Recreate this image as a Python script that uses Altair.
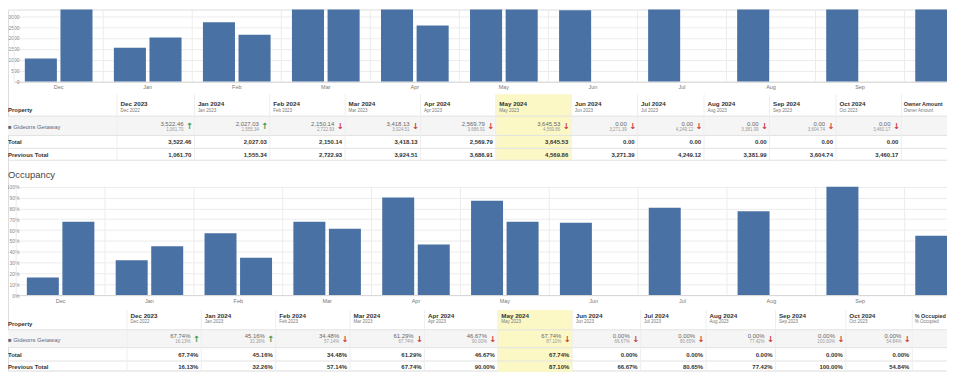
import altair as alt
import pandas as pd

# ---------------- data ----------------
months = ["Dec", "Jan", "Feb", "Mar", "Apr", "May", "Jun", "Jul", "Aug", "Sep", "Oct"]
periods_cur = ["Dec 2023", "Jan 2024", "Feb 2024", "Mar 2024", "Apr 2024", "May 2024",
               "Jun 2024", "Jul 2024", "Aug 2024", "Sep 2024", "Oct 2024"]
periods_prev = ["Dec 2022", "Jan 2023", "Feb 2023", "Mar 2023", "Apr 2023", "May 2023",
                "Jun 2023", "Jul 2023", "Aug 2023", "Sep 2023", "Oct 2023"]
owner_cur = [3522.46, 2027.03, 2150.14, 3418.13, 2569.79, 3645.53, 0.00, 0.00, 0.00, 0.00, 0.00]
owner_prev = [1061.70, 1555.34, 2722.93, 3924.51, 3686.91, 4569.86, 3271.39, 4249.12, 3381.99, 3604.74, 3460.17]
occ_cur = [67.74, 45.16, 34.48, 61.29, 46.67, 67.74, 0.00, 0.00, 0.00, 0.00, 0.00]
occ_prev = [16.13, 32.26, 57.14, 67.74, 90.00, 87.10, 66.67, 80.65, 77.42, 100.00, 54.84]
owner_ticks = [0, 500, 1000, 1500, 2000, 2500, 3000, 3500]
occ_ticks = [0, 10, 20, 30, 40, 50, 60, 70, 80, 90, 100]
property_name = "Gideons Getaway"
row_labels = ["Property", "Total", "Previous Total"]
summary_headers = ["Owner Amount", "% Occupied"]
occupancy_title = "Occupancy"
highlight = "May 2024"
hidden_axis_label = "Oct"   # falls past the right edge of the view

# ---------------- layout / style ----------------
W, H = 947, 364
BLUE = "#4a71a3"
FONT = "Liberation Sans"
N = len(months)


def bar_panel(prev, cur, ymax, yrng, xrng, ticks, label_expr):
    df = pd.DataFrame({
        "month": months * 2,
        "series": ["prev"] * N + ["cur"] * N,
        "value": prev + cur,
    })
    xs = alt.Scale(domain=months, range=xrng, paddingInner=0.24, paddingOuter=0.12)
    ys = alt.Scale(domain=[0, ymax], range=yrng, nice=False, zero=False)
    step = (xrng[1] - xrng[0]) / N
    vgrid = alt.Chart(pd.DataFrame({"month": months})).mark_rule(
        color="#ececec", strokeWidth=1, xOffset=-0.12 * step, clip=True
    ).encode(
        x=alt.X("month:N", scale=xs, bandPosition=0, axis=None, sort=months),
        y=alt.YDatum(0, scale=ys, axis=None),
        y2=alt.Y2Datum(ymax),
    )
    bars = alt.Chart(df).mark_bar(color=BLUE, clip=True).encode(
        x=alt.X("month:N", scale=xs, sort=months, title=None,
                axis=alt.Axis(orient="bottom", offset=yrng[0] - H, labelAngle=0, ticks=False,
                              grid=False, domainColor="#d4d4d4", labelColor="#777",
                              labelFontSize=5.5, labelPadding=3, labelFont=FONT,
                              labelExpr=f"datum.value == '{hidden_axis_label}' ? '' : datum.label")),
        xOffset=alt.XOffset("series:N", sort=["prev", "cur"],
                            scale=alt.Scale(domain=["prev", "cur"], paddingInner=0.1, paddingOuter=0)),
        y=alt.Y("value:Q", scale=ys, title=None,
                axis=alt.Axis(orient="left", offset=-12, values=ticks, grid=True, gridColor="#ececec",
                              domain=False, ticks=False, labelColor="#888", labelFontSize=5,
                              labelPadding=1, labelFont=FONT, labelExpr=label_expr)),
    )
    return [vgrid, bars]


def table_panel(cur, prev, fmt, div, summary, edges, rows):
    base = pd.DataFrame({
        "col": list(range(N)),
        "head": periods_cur,
        "sub": periods_prev,
        "cur": cur,
        "prev": prev,
    })
    base["right"] = base["col"] + 1
    base["dir"] = ["up" if c > p else "down" for c, p in zip(cur, prev)]
    base["arrow"] = ["\u2191" if d == "up" else "\u2193" for d in base["dir"]]

    xs = alt.Scale(domain=list(range(-1, N + 2)), range=edges, nice=False, zero=False)
    order = sorted(rows, key=rows.get)
    ys = alt.Scale(domain=list(range(len(order))), range=[rows[k] for k in order], nice=False, zero=False)

    def Y(name):
        return alt.YDatum(order.index(name), scale=ys, axis=None)

    def Y2(name):
        return alt.Y2Datum(order.index(name))

    def XC(field):
        return alt.X(field, scale=xs, axis=None)

    one = pd.DataFrame({"a": [0]})
    calc_cur = f"format(datum.cur / {div}, '{fmt}')"
    calc_prev = f"format(datum.prev / {div}, '{fmt}')"

    layers = []
    # data row background
    layers.append(alt.Chart(one).mark_rect(color="#f5f5f5").encode(
        x=alt.XDatum(-1, scale=xs, axis=None), x2=alt.X2Datum(N + 1),
        y=Y("headline"), y2=Y2("dataline")))
    # highlighted column
    layers.append(alt.Chart(base[base["head"] == highlight]).mark_rect(color="#fbf8c6").encode(
        x=XC("col:Q"), x2="right:Q", y=Y("top"), y2=Y2("bottom")))
    # horizontal borders
    hl = pd.DataFrame({"r": [order.index(k) for k in ["headline", "dataline", "totalline", "bottom"]]})
    layers.append(alt.Chart(hl).mark_rule(color="#e2e2e2", strokeWidth=1).encode(
        x=alt.XDatum(-1, scale=xs, axis=None), x2=alt.X2Datum(N + 1),
        y=alt.Y("r:Q", scale=ys, axis=None)))
    # vertical separators
    vl = pd.DataFrame({"e": list(range(0, N + 2))})
    layers.append(alt.Chart(vl).mark_rule(color="#eeeeee", strokeWidth=1).encode(
        x=XC("e:Q"), y=Y("top"), y2=Y2("bottom")))
    # headers
    layers.append(alt.Chart(base).mark_text(align="left", baseline="middle", dx=3.5, fontSize=6.3,
                                            fontWeight="bold", color="#333", font=FONT).encode(
        x=XC("col:Q"), y=Y("head"), text="head:N"))
    layers.append(alt.Chart(base).mark_text(align="left", baseline="middle", dx=3.5, fontSize=4.5,
                                            color="#777", font=FONT).encode(
        x=XC("col:Q"), y=Y("sub"), text="sub:N"))
    summ = pd.DataFrame({"col": [N], "head": [summary]})
    layers.append(alt.Chart(summ).mark_text(align="left", baseline="middle", dx=2.5, fontSize=5.5,
                                            fontWeight="bold", color="#333", font=FONT).encode(
        x=XC("col:Q"), y=Y("head"), text="head:N"))
    layers.append(alt.Chart(summ).mark_text(align="left", baseline="middle", dx=2.5, fontSize=4.5,
                                            color="#777", font=FONT).encode(
        x=XC("col:Q"), y=Y("sub"), text="head:N"))
    # data row values
    layers.append(alt.Chart(base).transform_calculate(v=calc_cur).mark_text(
        align="right", baseline="middle", dx=-11, fontSize=6, color="#666", font=FONT).encode(
        x=XC("right:Q"), y=Y("val"), text="v:N"))
    layers.append(alt.Chart(base).transform_calculate(v=calc_prev).mark_text(
        align="right", baseline="middle", dx=-11, fontSize=4.5, color="#999", font=FONT).encode(
        x=XC("right:Q"), y=Y("prev"), text="v:N"))
    layers.append(alt.Chart(base).mark_text(
        align="center", baseline="middle", dx=-5, fontSize=8.5, fontWeight="bold", font="DejaVu Sans").encode(
        x=XC("right:Q"), y=Y("arrow"), text="arrow:N",
        color=alt.Color("dir:N", scale=alt.Scale(domain=["up", "down"], range=["#3c9a4f", "#cf3b3b"]),
                        legend=None)))
    # totals
    layers.append(alt.Chart(base).transform_calculate(v=calc_cur).mark_text(
        align="right", baseline="middle", dx=-3, fontSize=6, fontWeight="bold", color="#333", font=FONT).encode(
        x=XC("right:Q"), y=Y("total"), text="v:N"))
    layers.append(alt.Chart(base).transform_calculate(v=calc_prev).mark_text(
        align="right", baseline="middle", dx=-3, fontSize=6, fontWeight="bold", color="#333", font=FONT).encode(
        x=XC("right:Q"), y=Y("ptotal"), text="v:N"))
    # row labels
    for label, rk in zip(row_labels, ["prop", "total", "ptotal"]):
        layers.append(alt.Chart(pd.DataFrame({"t": [label]})).mark_text(
            align="left", baseline="middle", dx=0, fontSize=6, fontWeight="bold", color="#333", font=FONT).encode(
            x=alt.XDatum(-1, scale=xs, axis=None), y=Y(rk), text="t:N"))
    layers.append(alt.Chart(pd.DataFrame({"t": ["\u25a0 " + property_name]})).mark_text(
        align="left", baseline="middle", dx=0, fontSize=6, color="#667", font=FONT).encode(
        x=alt.XDatum(-1, scale=xs, axis=None), y=Y("name"), text="t:N"))
    return layers


T1_EDGES = [0, 110, 188, 264, 340, 416, 492, 568, 635, 702, 768, 835, 901, 967]
T2_EDGES = [0, 120, 195, 270, 345, 420, 494, 569, 638, 704, 774, 845, 912, 977]
T1_ROWS = {"top": 85.5, "head": 95, "prop": 101.5, "sub": 102.3, "headline": 107.5, "val": 115,
           "arrow": 117.2, "name": 118.3, "prev": 121.7, "dataline": 127, "total": 134,
           "totalline": 140, "ptotal": 146.3, "bottom": 152}
T2_ROWS = {"top": 303, "head": 309.3, "sub": 315.3, "prop": 317, "headline": 323, "val": 329.7,
           "arrow": 331.8, "name": 333.7, "prev": 335.3, "dataline": 341, "total": 348.7,
           "totalline": 354.5, "ptotal": 360.3, "bottom": 366}

layers = []
layers += bar_panel(owner_prev, owner_cur, 3305, [72.7, 0], [6.2, 994], owner_ticks, "datum.value")
layers += table_panel(owner_cur, owner_prev, ",.2f", 1, summary_headers[0], T1_EDGES, T1_ROWS)
layers.append(alt.Chart(pd.DataFrame({"t": [occupancy_title]})).mark_text(
    align="left", baseline="middle", fontSize=9.5, color="#444", font=FONT).encode(
    x=alt.value(0), y=alt.value(167), text="t:N"))
layers += bar_panel(occ_prev, occ_cur, 100, [288, 178.7], [8.25, 993.85], occ_ticks, "datum.value + '%'")
layers += table_panel(occ_cur, occ_prev, ".2%", 100, summary_headers[1], T2_EDGES, T2_ROWS)

chart = alt.layer(*layers).resolve_scale(
    x="independent", y="independent", xOffset="independent", color="independent"
).properties(
    width=W, height=H, autosize=alt.AutoSizeParams(type="none"), padding=0
).configure_view(stroke=None).configure(background="white")

chart.save("out.html", embed_options={"renderer": "svg", "actions": False})
